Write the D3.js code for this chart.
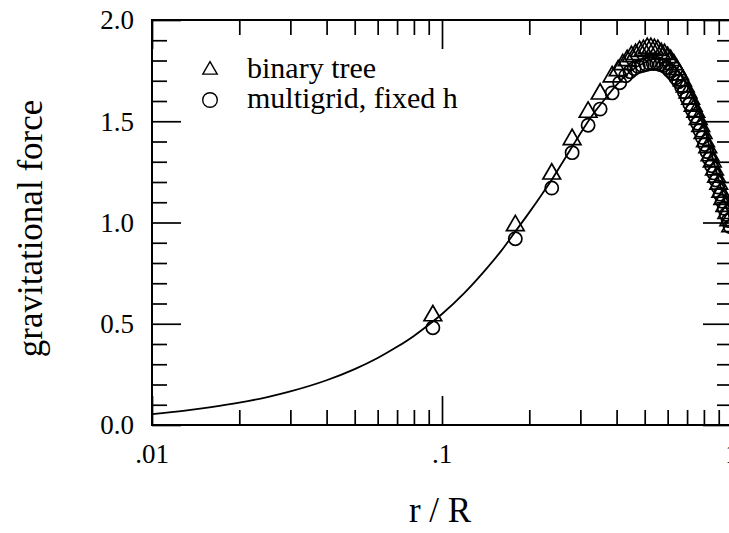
<!DOCTYPE html>
<html>
<head>
<meta charset="utf-8">
<script src="https://cdn.jsdelivr.net/npm/d3@7"></script>
<style>
  html, body { margin: 0; padding: 0; background: #fff; }
  svg { display: block; }
  text { font-family: "Liberation Serif", "Times New Roman", serif; fill: #000; }
</style>
</head>
<body>
<svg id="chart" width="729" height="533"></svg>
<script>
// ---- data ----
const lineX = [0.01,0.013,0.016,0.02,0.025,0.03,0.04,0.05,0.06,0.07,0.08,0.09,0.1,0.12,0.14,0.16,0.18,0.2,0.22,0.24,0.26,0.28,0.3,0.33,0.36,0.4,0.45,0.5,0.55,0.6,0.65,0.7,0.75,0.8,0.85,0.9,0.95,1.0];
const lineY = [0.054,0.071,0.088,0.11,0.138,0.166,0.221,0.276,0.331,0.386,0.44,0.495,0.548,0.655,0.76,0.86,0.96,1.05,1.135,1.215,1.295,1.37,1.44,1.53,1.60,1.68,1.75,1.79,1.81,1.80,1.75,1.68,1.58,1.47,1.34,1.21,1.09,0.98];

const treeX = [0.093,0.179,0.239,0.281,0.319,0.351,0.386,0.405,0.42,0.435,0.45,0.465,0.48,0.495,0.51,0.525,0.54,0.555,0.57,0.585,0.60,0.615,0.63,0.645,0.66,0.675,0.69,0.705,0.72,0.735,0.75,0.765,0.78,0.795,0.81,0.825,0.84,0.855,0.87,0.885,0.90,0.915,0.93,0.945,0.96,0.975,0.99];
const treeY = [0.54,0.985,1.24,1.41,1.545,1.635,1.72,1.75,1.78,1.80,1.82,1.83,1.845,1.85,1.86,1.86,1.855,1.85,1.835,1.83,1.815,1.80,1.78,1.755,1.73,1.70,1.67,1.64,1.61,1.575,1.545,1.51,1.475,1.44,1.40,1.37,1.33,1.30,1.26,1.225,1.19,1.15,1.115,1.08,1.045,1.01,0.98];

const gridX = [0.093,0.179,0.239,0.281,0.319,0.351,0.386,0.41,0.43,0.445,0.46,0.475,0.49,0.505,0.52,0.535,0.55,0.565,0.58,0.595,0.61,0.625,0.64,0.655,0.67,0.685,0.70,0.715,0.73,0.745,0.76,0.775,0.79,0.805,0.82,0.835,0.85,0.865,0.88,0.895,0.91,0.925,0.94,0.955,0.97,0.985];
const gridY = [0.48,0.92,1.17,1.345,1.48,1.56,1.64,1.69,1.725,1.745,1.76,1.77,1.775,1.78,1.785,1.785,1.785,1.78,1.775,1.765,1.75,1.735,1.715,1.695,1.67,1.645,1.615,1.585,1.555,1.525,1.49,1.455,1.42,1.385,1.35,1.315,1.28,1.245,1.21,1.175,1.14,1.105,1.07,1.04,1.01,0.98];

const legendLabels = ["binary tree", "multigrid, fixed h"];
const yTickValues = [0, 0.5, 1.0, 1.5, 2.0];
const yTickLabels = ["0.0", "0.5", "1.0", "1.5", "2.0"];
const xTickValues = [0.01, 0.1, 1];
const xTickLabels = [".01", ".1", "1"];
const xTitle = "r / R";
const yTitle = "gravitational force";

// ---- layout ----
const mLeft = 152, mRight = 732, mTop = 20, mBottom = 425;
const svg = d3.select("#chart");

const x = d3.scaleLog().domain([0.01, 1]).range([mLeft, mRight]);
const y = d3.scaleLinear().domain([0, 2]).range([mBottom, mTop]);

const majorLen = 29, minorLen = 15;
const xMinor = [];
[0.01, 0.1].forEach(d => { for (let k = 2; k <= 9; k++) xMinor.push(d * k); });
const yMinor = d3.range(0, 21).map(i => i / 10).filter(v => Math.abs(v * 2 - Math.round(v * 2)) > 1e-6);

function addAxis(axisGen, tx, ty) {
  svg.append("g").attr("transform", `translate(${tx},${ty})`)
    .call(axisGen)
    .call(g => g.select(".domain").remove());
}
addAxis(d3.axisTop(x).tickValues(xTickValues).tickSize(majorLen).tickFormat(""), 0, mBottom);
addAxis(d3.axisTop(x).tickValues(xMinor).tickSize(minorLen).tickFormat(""), 0, mBottom);
addAxis(d3.axisBottom(x).tickValues(xTickValues).tickSize(majorLen).tickFormat(""), 0, mTop);
addAxis(d3.axisBottom(x).tickValues(xMinor).tickSize(minorLen).tickFormat(""), 0, mTop);
addAxis(d3.axisRight(y).tickValues(yTickValues).tickSize(majorLen).tickFormat(""), mLeft, 0);
addAxis(d3.axisRight(y).tickValues(yMinor).tickSize(minorLen).tickFormat(""), mLeft, 0);
addAxis(d3.axisLeft(y).tickValues(yTickValues).tickSize(majorLen).tickFormat(""), mRight, 0);
addAxis(d3.axisLeft(y).tickValues(yMinor).tickSize(minorLen).tickFormat(""), mRight, 0);

svg.selectAll(".tick line").attr("stroke", "#000").attr("stroke-width", 1.7);

svg.append("rect").attr("x", mLeft).attr("y", mTop)
  .attr("width", mRight - mLeft).attr("height", mBottom - mTop)
  .attr("fill", "none").attr("stroke", "#000").attr("stroke-width", 2);

// tick labels
svg.append("g").selectAll("text").data(yTickValues).join("text")
  .attr("x", mLeft - 18).attr("y", d => y(d)).attr("dy", "0.35em")
  .attr("text-anchor", "end").attr("font-size", 27)
  .text((d, i) => yTickLabels[i]);
svg.append("g").selectAll("text").data(xTickValues).join("text")
  .attr("x", d => x(d)).attr("y", mBottom + 38)
  .attr("text-anchor", "middle").attr("font-size", 27)
  .text((d, i) => xTickLabels[i]);

// titles
svg.append("text").attr("x", (mLeft + mRight) / 2 - 2).attr("y", 522)
  .attr("text-anchor", "middle").attr("font-size", 35).text(xTitle);
svg.append("text").attr("transform", `translate(42,${(mTop + mBottom) / 2 + 6}) rotate(-90)`)
  .attr("text-anchor", "middle").attr("font-size", 35).text(yTitle);

// curve
const line = d3.line().x((d, i) => x(lineX[i])).y((d, i) => y(lineY[i])).curve(d3.curveMonotoneX);
svg.append("path").attr("d", line(lineX)).attr("fill", "none")
  .attr("stroke", "#000").attr("stroke-width", 1.8);

// markers
const tri = d3.symbol().type(d3.symbolTriangle).size(135);
svg.append("g").selectAll("path").data(treeX).join("path")
  .attr("d", tri)
  .attr("transform", (d, i) => `translate(${x(d)},${y(treeY[i])})`)
  .attr("fill", "none").attr("stroke", "#000").attr("stroke-width", 1.7);
svg.append("g").selectAll("circle").data(gridX).join("circle")
  .attr("cx", d => x(d)).attr("cy", (d, i) => y(gridY[i])).attr("r", 6.6)
  .attr("fill", "none").attr("stroke", "#000").attr("stroke-width", 1.7);

// legend
const lg = svg.append("g");
lg.append("path").attr("d", d3.symbol().type(d3.symbolTriangle).size(90))
  .attr("transform", "translate(210,70)")
  .attr("fill", "none").attr("stroke", "#000").attr("stroke-width", 1.4);
lg.append("circle").attr("cx", 210).attr("cy", 100).attr("r", 7.3)
  .attr("fill", "none").attr("stroke", "#000").attr("stroke-width", 1.4);
lg.selectAll("text").data(legendLabels).join("text")
  .attr("x", 247).attr("y", (d, i) => 78 + i * 30)
  .attr("font-size", 30).text(d => d);
</script>
</body>
</html>
